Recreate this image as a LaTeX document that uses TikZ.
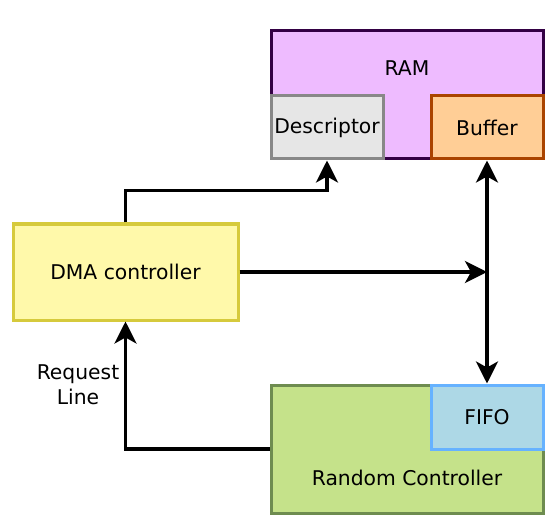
\documentclass[tikz,border=0pt]{standalone}
\usepackage{fontspec}
\setmainfont{DejaVu Sans}
\usetikzlibrary{positioning, arrows.meta}

\definecolor{ramfill}{RGB}{238,187,255}
\definecolor{ramline}{RGB}{51,0,68}
\definecolor{descfill}{RGB}{230,230,230}
\definecolor{descline}{RGB}{136,136,136}
\definecolor{buffill}{RGB}{255,206,150}
\definecolor{bufline}{RGB}{170,68,0}
\definecolor{dmafill}{RGB}{255,249,170}
\definecolor{dmaline}{RGB}{214,202,60}
\definecolor{rcfill}{RGB}{197,226,138}
\definecolor{rcline}{RGB}{110,140,80}
\definecolor{fifofill}{RGB}{173,216,230}
\definecolor{fifoline}{RGB}{102,178,255}

\begin{document}
\begin{tikzpicture}[
        x=1pt, y=-1pt,
        font=\fontsize{20.3}{25}\selectfont,
        block/.style={rectangle, draw, line width=3pt, inner sep=0pt, text centered},
        arrow/.style={line width=3.5pt, -{Stealth[length=22pt, width=22pt, inset=6pt]}},
        darrow/.style={line width=3.5pt, {Stealth[length=22pt, width=22pt, inset=6pt]}-{Stealth[length=22pt, width=22pt, inset=6pt]}}
    ]
    \useasboundingbox (0,0) rectangle (558,527);

    % memory
    \node[block, fill=ramfill, draw=ramline, minimum width=272pt, minimum height=128pt,
          label={[anchor=center, yshift=-39pt]north:RAM}] (ram) at (407,95) {};
    \node[block, fill=descfill, draw=descline, minimum width=112pt, minimum height=63pt] (desc) at (327,127.5) {Descriptor};
    \node[block, fill=buffill, draw=bufline, minimum width=112pt, minimum height=63pt] (buf) at (487,127.5) {Buffer};

    % controllers
    \node[block, fill=dmafill, draw=dmaline, minimum width=225pt, minimum height=96pt] (dma) at (125.5,272) {DMA controller};
    \node[block, fill=rcfill, draw=rcline, minimum width=272pt, minimum height=128pt,
          label={[anchor=center, yshift=37pt]south:Random Controller}] (rc) at (407,449) {};
    \node[block, fill=fifofill, draw=fifoline, minimum width=112pt, minimum height=64pt] (fifo) at (487,417) {FIFO};

    \node[align=center] (req) at (78,385) {Request\\Line};

    \draw[arrow] (dma.north) -- ++(0,-32) -| (desc.south);
    \draw[arrow] (dma.east) -- (dma.east -| buf.south);
    \draw[darrow] (buf.south) -- (fifo.north);
    \draw[arrow] (rc.west) -| (dma.south);
\end{tikzpicture}
\end{document}
